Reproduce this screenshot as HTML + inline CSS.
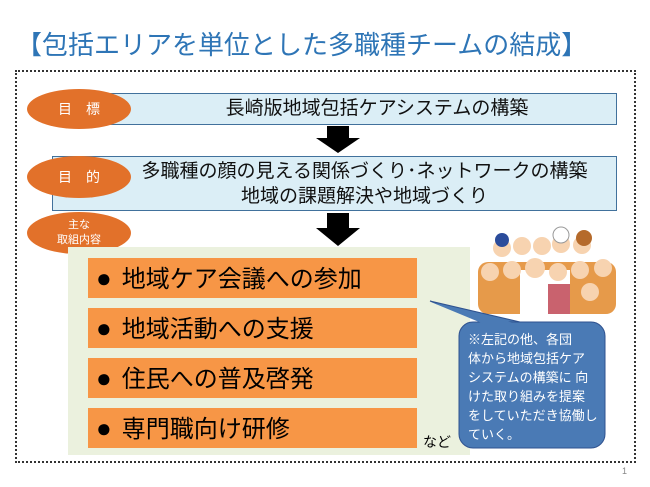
<!DOCTYPE html>
<html><head><meta charset="utf-8"><style>
body{margin:0;width:650px;height:487px;background:#fff;position:relative;overflow:hidden;font-family:"Liberation Sans","Noto Sans CJK JP",sans-serif}
.a{position:absolute}
.box{background:#dbeef6;border:1px solid #41719c;box-sizing:border-box;color:#111;text-align:center}
.ov{background:#e2712a;border-radius:50%;color:#fff;text-align:center;box-sizing:border-box}
.bar{background:#f79646;left:88px;width:329px;height:40px;font-size:24px;color:#000;line-height:40px;padding-left:8px;box-sizing:border-box;white-space:nowrap}
.bar b{font-weight:normal;font-size:26px;margin-right:10px}
</style></head><body>
<div class="a" style="left:16px;top:25px;font-size:26px;color:#2e75b6;white-space:nowrap">【包括エリアを単位とした多職種チームの結成】</div>
<div class="a" style="left:15px;top:70px;width:621px;height:393px;border:2px dotted #333;box-sizing:border-box"></div>
<div class="a box" style="left:97px;top:93px;width:520px;height:32px;font-size:19px;line-height:30px;padding-left:40px">長崎版地域包括ケアシステムの構築</div>
<div class="a box" style="left:52px;top:156px;width:565px;height:55px;font-size:19px;line-height:25px;padding-top:2px;padding-left:60px">多職種の顔の見える関係づくり･ネットワークの構築<br>地域の課題解決や地域づくり</div>
<div class="a ov" style="left:27px;top:89px;width:104px;height:40px;font-size:14px;line-height:40px">目　標</div>
<div class="a ov" style="left:27px;top:156px;width:104px;height:42px;font-size:14px;line-height:42px">目　的</div>
<div class="a ov" style="left:27px;top:212px;width:104px;height:42px;font-size:11px;line-height:15px;padding-top:6px">主な<br>取組内容</div>
<svg class="a" style="left:0;top:0" width="650" height="487">
<polygon points="327,126 349,126 349,138 360,138 338,153 316,138 327,138" fill="#000"/>
<polygon points="327,213 349,213 349,228 360,228 338,246 316,228 327,228" fill="#000"/>
</svg>
<div class="a" style="left:68px;top:247px;width:402px;height:208px;background:#ebf1de"></div>
<div class="a bar" style="top:258px"><b>●</b>地域ケア会議への参加</div>
<div class="a bar" style="top:308px"><b>●</b>地域活動への支援</div>
<div class="a bar" style="top:358px"><b>●</b>住民への普及啓発</div>
<div class="a bar" style="top:408px"><b>●</b>専門職向け研修</div>
<div class="a" style="left:423px;top:432px;font-size:14px">など</div>
<svg class="a" style="left:0;top:0" width="650" height="487">
<g>
<rect x="478" y="262" width="138" height="52" rx="10" fill="#e69a4a"/>
<rect x="520" y="270" width="50" height="44" fill="#fff"/>
<circle cx="502" cy="248" r="9" fill="#f7d3b0"/><circle cx="502" cy="240" r="7" fill="#2b4c9b"/>
<circle cx="522" cy="246" r="9" fill="#f7d3b0"/><circle cx="542" cy="246" r="9" fill="#f7d3b0"/>
<circle cx="561" cy="244" r="9" fill="#f7d3b0"/><circle cx="561" cy="235" r="8" fill="#fff" stroke="#999"/>
<circle cx="582" cy="245" r="9" fill="#f7d3b0"/><circle cx="584" cy="238" r="8" fill="#b56a2b"/>
<circle cx="490" cy="272" r="9" fill="#f7d3b0"/><circle cx="512" cy="270" r="9" fill="#f7d3b0"/>
<circle cx="535" cy="268" r="10" fill="#f7d3b0"/><circle cx="558" cy="272" r="9" fill="#f7d3b0"/>
<circle cx="580" cy="270" r="9" fill="#f7d3b0"/><circle cx="603" cy="268" r="9" fill="#f7d3b0"/>
<circle cx="590" cy="292" r="9" fill="#f7d3b0"/><rect x="548" y="284" width="22" height="30" fill="#c9626e"/>
</g>
<polygon points="430,301 482,322 520,322" fill="#4a7ab5" stroke="#2f528f" stroke-width="1"/>
<rect x="459" y="322" width="146" height="126" rx="14" fill="#4a7ab5" stroke="#2f528f"/>
<polygon points="431,302 484,324 518,324" fill="#4a7ab5"/>
</svg>
<div class="a" style="left:468px;top:330px;font-size:13px;line-height:19px;color:#fff;white-space:nowrap">※左記の他、各団<br>体から地域包括ケア<br>システムの構築に 向<br>けた取り組みを提案<br>をしていただき協働し<br>ていく。</div>
<div class="a" style="left:622px;top:466px;font-size:9px;color:#888">1</div>
</body></html>
